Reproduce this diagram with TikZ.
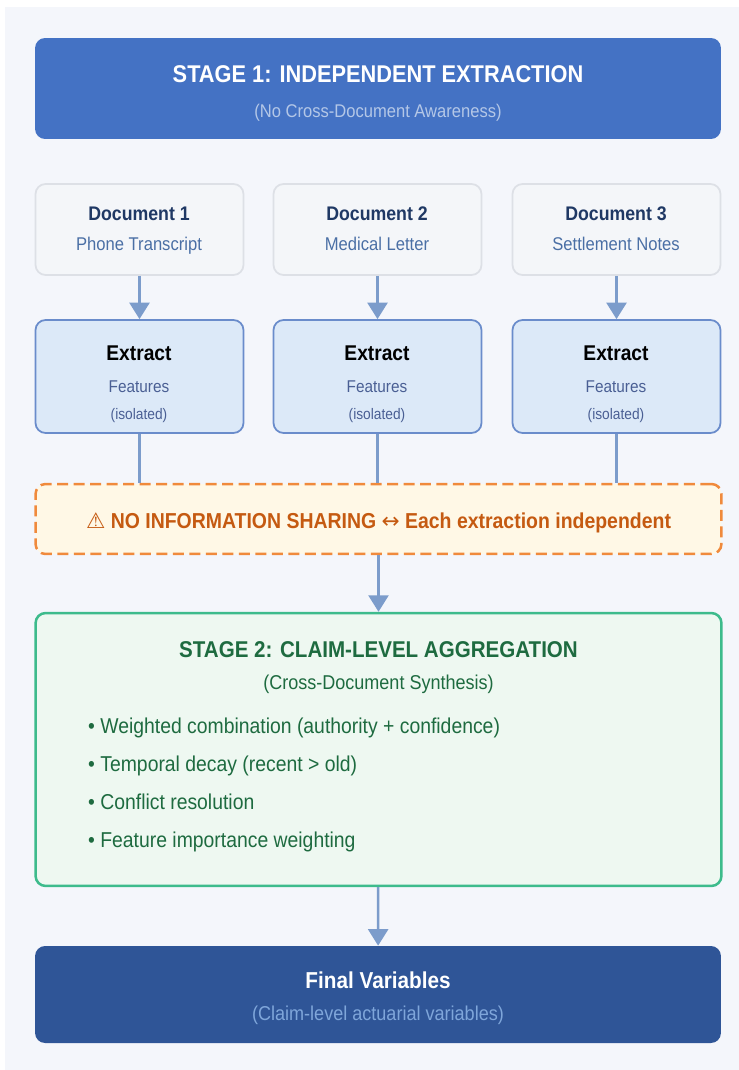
\documentclass[tikz,border=0pt]{standalone}
\usepackage{fontspec}
\setmainfont[FakeStretch=0.9]{Liberation Sans}
\newfontfamily\symfont{DejaVu Sans}
\usetikzlibrary{arrows.meta}

\definecolor{panelbg}{HTML}{F4F6FB}
\definecolor{headblue}{HTML}{4472C4}
\definecolor{headsub}{HTML}{B4C7E7}
\definecolor{docfill}{HTML}{F4F6F9}
\definecolor{docline}{HTML}{DDE0E6}
\definecolor{doctitle}{HTML}{1F3864}
\definecolor{docsub}{HTML}{4A6FA5}
\definecolor{extfill}{HTML}{DCE9F8}
\definecolor{extline}{HTML}{6A8CCB}
\definecolor{extsub}{HTML}{4A5F94}
\definecolor{warnfill}{HTML}{FFF8E6}
\definecolor{warnline}{HTML}{F08A3C}
\definecolor{warntext}{HTML}{C55A11}
\definecolor{synfill}{HTML}{EEF8F1}
\definecolor{synline}{HTML}{3DBB8C}
\definecolor{syntext}{HTML}{1E6B40}
\definecolor{finalblue}{HTML}{2F5597}
\definecolor{finalsub}{HTML}{7FA6DA}
\definecolor{linkblue}{HTML}{7C9CCB}

\tikzset{
	docbox/.style={draw=docline, fill=docfill, line width=0.035cm, rounded corners=0.2cm, minimum width=4.16cm, minimum height=1.82cm},
	extbox/.style={draw=extline, fill=extfill, line width=0.035cm, rounded corners=0.2cm, minimum width=4.16cm, minimum height=2.26cm},
	widebox/.style={rounded corners=0.2cm, minimum width=13.72cm},
	link/.style={draw=linkblue, line width=0.05cm},
	linktip/.style={link, -{Triangle[length=0.33cm, width=0.4cm]}},
	boldtxt/.style={font=\fontsize{#1}{#1}\selectfont\bfseries, text height=0.716*#1pt, text depth=0pt},
	thintxt/.style={font=\fontsize{#1}{#1}\selectfont, text height=0.716*#1pt, text depth=0pt},
	item/.style={thintxt=12.25, text=syntext, anchor=west}
}

\begin{document}
\begin{tikzpicture}[x=0.02cm, y=-0.02cm]
		\useasboundingbox (0,0) rectangle (739,1070);
		\fill[panelbg] (5,7) rectangle (739,1070);
		
		% stage 1 banner
		\node[widebox, fill=headblue, minimum height=2.02cm] (stageone) at (378,88.5) {};
		\node[boldtxt=13.77, text=white] (stageonetitle) at (378,74) {STAGE 1: INDEPENDENT EXTRACTION};
		\node[thintxt=10.47, text=headsub] (stageonesub) at (378,111) {(No Cross-Document Awareness)};
		
		% documents
		\node[docbox] (docone) at (139.5,229.5) {};
		\node[docbox] (doctwo) at (377.5,229.5) {};
		\node[docbox] (docthree) at (616.5,229.5) {};
		
		\node[boldtxt=11.2, text=doctitle] (doconetitle) at (139,213) {Document 1};
		\node[boldtxt=11.2, text=doctitle] (doctwotitle) at (377,213) {Document 2};
		\node[boldtxt=11.2, text=doctitle] (docthreetitle) at (616,213) {Document 3};
		
		\node[thintxt=10.5, text=docsub] (doconesub) at (139,244) {Phone Transcript};
		\node[thintxt=10.5, text=docsub] (doctwosub) at (377,244) {Medical Letter};
		\node[thintxt=10.5, text=docsub] (docthreesub) at (616,244) {Settlement Notes};
		
		% extraction
		\node[extbox] (extone) at (139.5,376.5) {};
		\node[extbox] (exttwo) at (377.5,376.5) {};
		\node[extbox] (extthree) at (616.5,376.5) {};
		
		\node[boldtxt=12.15, text=black] (extonetitle) at (139,353) {Extract};
		\node[boldtxt=12.15, text=black] (exttwotitle) at (377,353) {Extract};
		\node[boldtxt=12.15, text=black] (extthreetitle) at (616,353) {Extract};
		
		\node[thintxt=9.7, text=extsub] (extonefeat) at (139,386) {Features};
		\node[thintxt=9.7, text=extsub] (exttwofeat) at (377,386) {Features};
		\node[thintxt=9.7, text=extsub] (extthreefeat) at (616,386) {Features};
		
		\node[thintxt=8.7, text=extsub] (extoneiso) at (139,414) {(isolated)};
		\node[thintxt=8.7, text=extsub] (exttwoiso) at (377,414) {(isolated)};
		\node[thintxt=8.7, text=extsub] (extthreeiso) at (616,414) {(isolated)};
		
		% warning strip
		\node[widebox, draw=warnline, fill=warnfill, line width=0.05cm, dash pattern=on 0.22cm off 0.11cm, minimum height=1.4cm] (warn) at (378.5,519) {};
		\node[boldtxt=12.3, text=warntext] (warntitle) at (378.5,520.5) {{\symfont\symbol{"26A0}} NO INFORMATION SHARING {\symfont\mdseries\symbol{"2194}} Each extraction independent};
		
		% stage 2
		\node[widebox, draw=synline, fill=synfill, line width=0.05cm, minimum height=5.46cm] (stagetwo) at (378.5,749.5) {};
		\node[boldtxt=13, text=syntext] (stagetwotitle) at (378.5,649) {STAGE 2: CLAIM-LEVEL AGGREGATION};
		\node[thintxt=11.4, text=syntext] (stagetwosub) at (378.5,682) {(Cross-Document Synthesis)};
		\node[item] (itemone) at (82,726) {• Weighted combination (authority + confidence)};
		\node[item] (itemtwo) at (82,764) {• Temporal decay (recent > old)};
		\node[item] (itemthree) at (82,802) {• Conflict resolution};
		\node[item] (itemfour) at (82,840) {• Feature importance weighting};
		
		% final
		\node[widebox, fill=finalblue, minimum height=1.94cm] (final) at (378,994.5) {};
		\node[boldtxt=13.1, text=white] (finaltitle) at (378,980) {Final Variables};
		\node[thintxt=11.42, text=finalsub] (finalsub) at (378,1013) {(Claim-level actuarial variables)};
		
		% links
		\draw[linktip] (docone) -- (extone);
		\draw[linktip] (doctwo) -- (exttwo);
		\draw[linktip] (docthree) -- (extthree);
		
		\draw[link] (extone.south) -- (extone.south |- warn.north);
		\draw[link] (exttwo.south) -- (exttwo.south |- warn.north);
		\draw[link] (extthree.south) -- (extthree.south |- warn.north);
		
		\draw[linktip] (warn) -- (stagetwo);
		\draw[linktip] (stagetwo) -- (final);
		
\end{tikzpicture}
\end{document}
